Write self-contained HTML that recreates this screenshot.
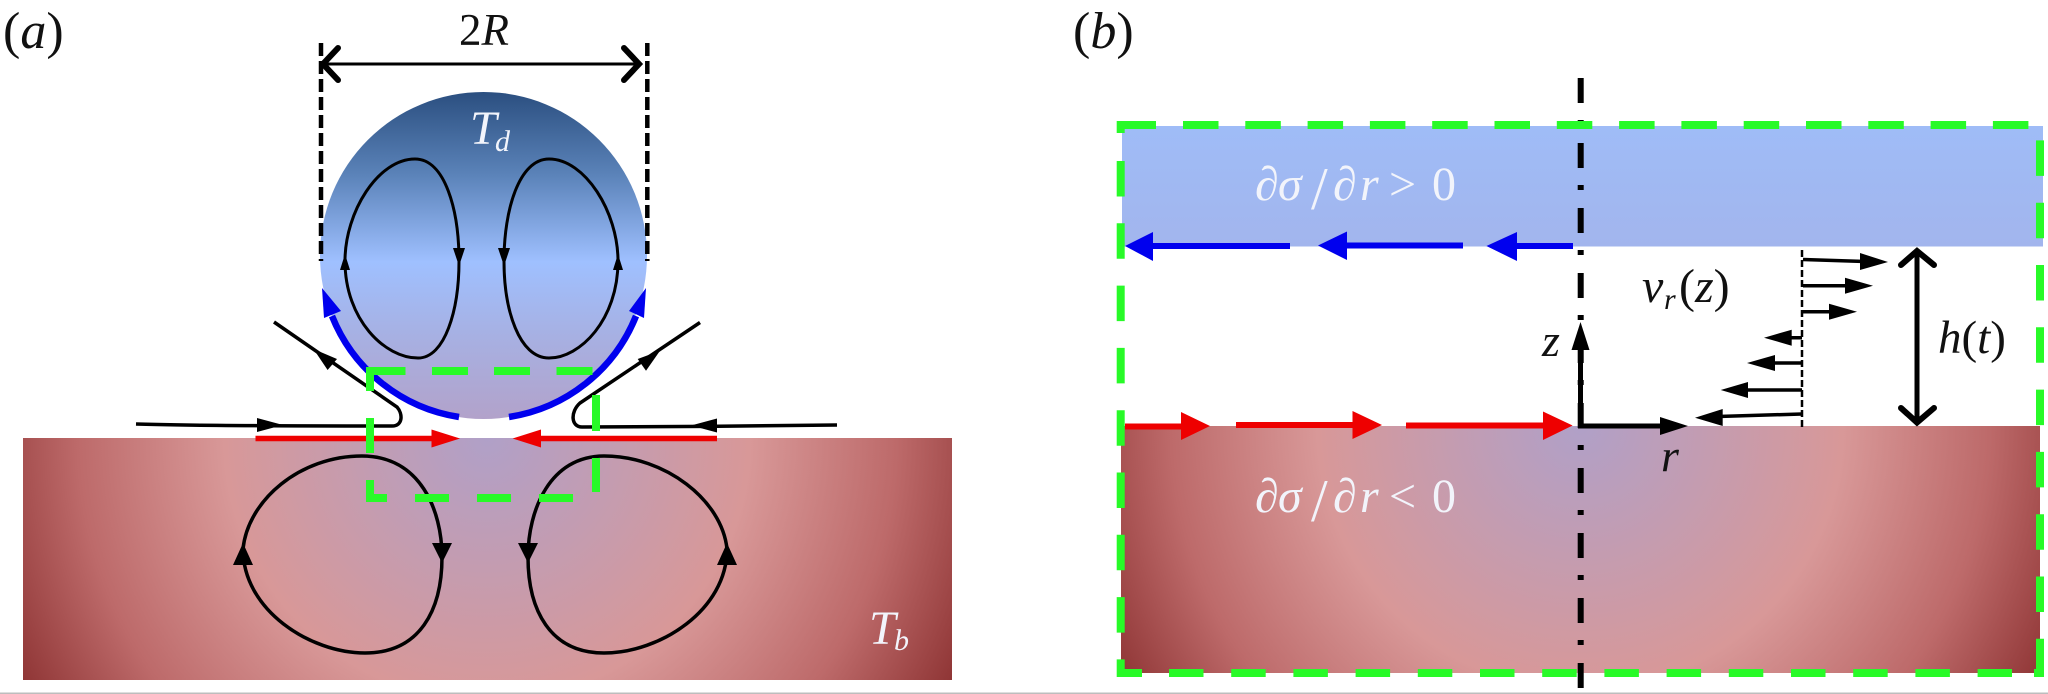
<!DOCTYPE html>
<html><head><meta charset="utf-8"><style>
html,body{margin:0;padding:0;background:#fff;width:2048px;height:694px;overflow:hidden}
svg{display:block}
text{font-family:"Liberation Serif","DejaVu Serif",serif;fill:#111}
.i{font-style:italic}
text.w,.w{fill:#f2f4fb}
</style></head><body>
<svg width="2048" height="694" viewBox="0 0 2048 694" xmlns="http://www.w3.org/2000/svg">
<defs>
<linearGradient id="drop" gradientUnits="userSpaceOnUse" x1="0" y1="92" x2="0" y2="419">
<stop offset="0" stop-color="#2b4f80"/><stop offset=".25" stop-color="#5a82b8"/><stop offset=".52" stop-color="#9fc0ff"/><stop offset=".75" stop-color="#a7b0e2"/><stop offset="1" stop-color="#b2a2ca"/>
</linearGradient>
<radialGradient id="ga" gradientUnits="userSpaceOnUse" cx="487" cy="438" r="525">
<stop offset="0" stop-color="#b0a0c8"/><stop offset=".5" stop-color="#d89898"/><stop offset=".78" stop-color="#bd6a6a"/><stop offset="1" stop-color="#8f3535"/>
</radialGradient>
<radialGradient id="gb" gradientUnits="userSpaceOnUse" cx="1580" cy="426" r="525">
<stop offset="0" stop-color="#b0a0c8"/><stop offset=".5" stop-color="#d89898"/><stop offset=".78" stop-color="#bd6a6a"/><stop offset="1" stop-color="#8f3535"/>
</radialGradient>
<linearGradient id="top" x1="0" y1="0" x2="0" y2="1"><stop offset="0" stop-color="#9fbcf7"/><stop offset="1" stop-color="#a2b5ed"/></linearGradient>
</defs>

<!-- panel a -->
<rect x="23" y="438" width="929" height="242" fill="url(#ga)"/>
<circle cx="483.5" cy="255.5" r="163.5" fill="url(#drop)"/>
<path d="M321 43V261M647.3 43V261" stroke="#000" stroke-width="4.5" stroke-dasharray="13 5" fill="none"/>
<path d="M323 64H639" stroke="#000" stroke-width="3" fill="none"/>
<path d="M338 48L323 64L338 80M624 48L639 64L624 80" stroke="#000" stroke-width="6" stroke-linecap="round" fill="none"/>

<g fill="none" stroke="#000" stroke-width="3">
<path d="M345 261C345 212 378 159 415 159C445 159 459 210 459 261C459 310 445 358 418 358C385 358 345 320 345 261Z"/>
<path d="M618 261C618 212 585 159 549 159C519 159 504 210 504 261C504 310 519 358 549 358C580 358 618 320 618 261Z"/>
</g>
<g fill="#000">
<polygon points="345,254 340,270 350,270"/><polygon points="618,254 613,270 623,270"/>
<polygon points="459,266 453,248 465,248"/><polygon points="504,266 498,248 510,248"/>
</g>

<g fill="none" stroke="#0000ee" stroke-width="6.5">
<path d="M459 417A163.5 163.5 0 0 1 332 316"/>
<path d="M509 417A163.5 163.5 0 0 0 636 316"/>
</g>
<g fill="#0000ee">
<polygon points="322,288 324,318 341,311"/><polygon points="646,288 629,311 644,318"/>
</g>

<g fill="none" stroke="#000" stroke-width="3.5">
<path d="M136 424C200 426 300 426 392 426C403 426 403 414 397 407L274 322"/>
<path d="M837 425C760 426 660 427 582 427C571 427 570 412 580 403L700 322.5"/>
<path d="M243 549C248 500 300 456 362 456C420 456 442 510 442 557C442 610 420 653 365 653C310 653 243 610 243 549Z"/>
<path d="M727 549C722 500 665 456 604 456C550 456 528 510 528 557C528 610 550 653 604 653C660 653 727 610 727 549Z"/>
</g>
<g fill="#000">
<polygon points="283,425 257,418 257,432"/><polygon points="691,425.5 717,418.5 717,432.5"/>
<polygon points="313.5,349 327.6,370 337,359"/><polygon points="660,350.7 637.7,359 646,370.7"/>
<polygon points="243,543 233,565 253,565"/><polygon points="727,543 717,565 737,565"/>
<polygon points="442,563 432,543 452,543"/><polygon points="528,563 518,543 538,543"/>
</g>

<path d="M255.5 438.5H435M717 438.5H538" fill="none" stroke="#ee0000" stroke-width="5.5"/>
<g fill="#ee0000">
<polygon points="460,438.5 431.5,429.5 431.5,447.5"/><polygon points="512.6,438.5 541,429.5 541,447.5"/>
</g>

<g fill="#28fa28">
<rect x="366" y="367" width="39.5" height="8"/><rect x="432" y="367" width="36" height="8"/><rect x="494" y="367" width="36" height="8"/><rect x="556.5" y="367" width="36" height="8"/>
<rect x="366" y="367" width="8" height="24"/><rect x="366" y="418" width="8" height="35"/><rect x="366" y="480" width="8" height="22"/>
<rect x="366" y="494" width="21" height="8"/><rect x="415" y="494" width="34" height="8"/><rect x="477" y="494" width="34" height="8"/><rect x="539" y="494" width="34" height="8"/>
<rect x="592" y="395" width="8" height="36"/><rect x="592" y="458" width="8" height="34"/>
</g>

<text x="3" y="48" font-size="52">(<tspan class="i">a</tspan>)</text>
<text x="459" y="45" font-size="45">2<tspan class="i">R</tspan></text>
<text x="470" y="144" font-size="48" class="i w">T</text>
<text x="495" y="151" font-size="30" class="i w">d</text>
<text x="869" y="644" font-size="48" class="i w">T</text>
<text x="894" y="650" font-size="30" class="i w">b</text>

<!-- panel b -->
<text x="1073" y="48" font-size="52">(<tspan class="i">b</tspan>)</text>
<rect x="1122" y="126" width="921" height="120.5" fill="url(#top)"/>
<rect x="1121" y="426" width="919" height="247" fill="url(#gb)"/>
<path d="M1580.7 78V690" stroke="#000" stroke-width="6" stroke-dasharray="25 17 5 18" fill="none"/>

<g fill="none" stroke="#28fa28" stroke-width="8">
<path d="M1117 125H1156"/>
<path d="M1183 125H2030" stroke-dasharray="35.5 26.8"/>
<path d="M1120.7 121V133"/>
<path d="M1120.7 161V677" stroke-dasharray="35.5 26.8"/>
<path d="M1117 673H1142"/>
<path d="M1169 673H2012" stroke-dasharray="34.5 27.7"/>
<path d="M2040 140.4V675" stroke-dasharray="35.5 26.8"/>
<path d="M2034 673H2044"/>
</g>

<path d="M1573 246H1512M1463 245.5H1342M1290 246H1148" fill="none" stroke="#0000ee" stroke-width="6"/>
<g fill="#0000ee">
<polygon points="1486.4,246 1517,232 1517,261"/>
<polygon points="1318,245.5 1347,231.5 1347,260"/>
<polygon points="1125,246 1153,232 1153,261"/>
</g>

<path d="M1125 426.5H1185M1236 425H1356M1406 425.5H1547" fill="none" stroke="#ee0000" stroke-width="6"/>
<g fill="#ee0000">
<polygon points="1210,426 1181,412 1181,440"/>
<polygon points="1382,425 1352.5,411 1352.5,439"/>
<polygon points="1572.6,425.5 1543,411.5 1543,440"/>
</g>

<path d="M1580.5 428V345M1578 426H1664" fill="none" stroke="#000" stroke-width="5"/>
<polygon points="1580.5,322 1571.5,350 1589.5,350" fill="#000"/>
<polygon points="1688,426 1660,417 1660,435" fill="#000"/>

<path d="M1802 250V427" fill="none" stroke="#000" stroke-width="2.5" stroke-dasharray="7 3"/>
<path d="M1803 259.5L1865 261.5M1803 285.7H1850M1803 311.7H1834M1802 337.7H1787M1802 363H1770M1802 390H1743M1802 414L1718 416.5" fill="none" stroke="#000" stroke-width="3.5"/>
<g fill="#000">
<polygon points="1888,262 1860,253 1860,270"/>
<polygon points="1873,285.7 1845,277.7 1845,293.7"/>
<polygon points="1857,311.7 1829,303.7 1829,319.7"/>
<polygon points="1764,337.7 1791.7,329.7 1791.7,345.7"/>
<polygon points="1747,363 1775,355 1775,371"/>
<polygon points="1720.7,390 1748,382 1748,398"/>
<polygon points="1695,417.7 1722.7,409 1722.7,426"/>
</g>

<path d="M1917 252V422" fill="none" stroke="#000" stroke-width="5"/>
<path d="M1901 265L1917 251L1934 265M1901 408L1917 422.5L1934 408" fill="none" stroke="#000" stroke-width="6" stroke-linecap="round"/>

<g font-size="48" class="w">
<text x="1255" y="200" class="w" font-size="48">∂</text>
<text x="1278" y="200" class="i w" font-size="48">σ</text>
<text x="1311" y="209" class="w" font-size="60">/</text>
<text x="1333" y="200" class="w" font-size="48">∂</text>
<text x="1360" y="200" class="i w" font-size="48">r</text>
<text x="1389" y="200" class="w" font-size="48">&gt;</text>
<text x="1432" y="200" class="w" font-size="48">0</text>
<text x="1255" y="512" class="w" font-size="48">∂</text>
<text x="1278" y="512" class="i w" font-size="48">σ</text>
<text x="1311" y="521" class="w" font-size="60">/</text>
<text x="1333" y="512" class="w" font-size="48">∂</text>
<text x="1360" y="512" class="i w" font-size="48">r</text>
<text x="1389" y="512" class="w" font-size="48">&lt;</text>
<text x="1432" y="512" class="w" font-size="48">0</text>
</g>
<text x="1642" y="302" font-size="48" class="i">v</text>
<text x="1664" y="309" font-size="30" class="i">r</text>
<text x="1679" y="302" font-size="48">(<tspan class="i">z</tspan>)</text>
<text x="1938" y="353" font-size="47"><tspan class="i">h</tspan>(<tspan class="i">t</tspan>)</text>
<text x="1542" y="356" font-size="46" class="i">z</text>
<text x="1661" y="471" font-size="46" class="i">r</text>

<rect x="0" y="692.5" width="2048" height="1.5" fill="#bdbdbd"/>
</svg>
</body></html>
